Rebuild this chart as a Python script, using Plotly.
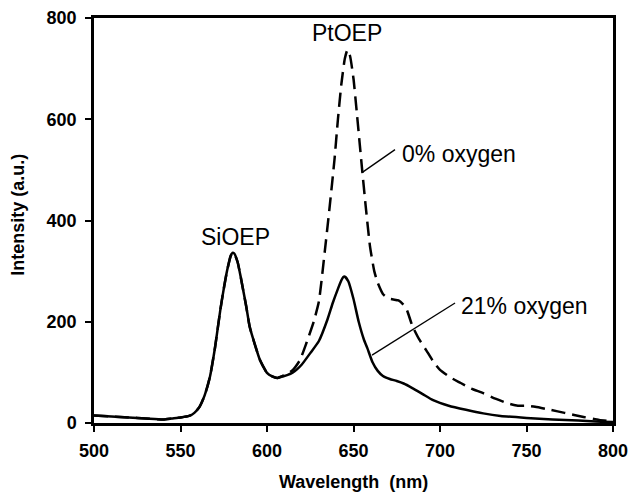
import plotly.graph_objects as go

# 21% oxygen (solid)
wl_21 = [500, 510, 520, 530, 540, 545, 550, 555, 558, 561, 564, 567, 570, 573, 575, 577, 579, 580, 581, 583,
         585, 588, 590, 593, 596, 600, 603, 606, 609, 612, 615, 617, 620, 625, 630, 635, 638, 641, 643, 644,
         645, 647, 650, 653, 656, 658, 661, 664, 667, 671, 675, 679, 684, 690, 696, 705, 715, 725, 735, 750,
         765, 780, 790, 800]
int_21 = [15, 13, 11, 9, 7, 9, 11, 14, 20, 32, 55, 91, 150, 223, 265, 302, 330, 336, 335, 318,
          285, 230, 190, 155, 124, 99, 92, 89, 92, 95, 100, 105, 115, 138, 162, 205, 237, 265, 282, 288,
          289, 280, 245, 200, 165, 148, 120, 103, 93, 87, 83, 78, 69, 57, 45, 34, 26, 19, 14, 10,
          7, 5, 3, 2]

# 0% oxygen (dashed)
wl_0 = [500, 510, 520, 530, 540, 545, 550, 555, 558, 561, 564, 567, 570, 573, 575, 577, 579, 580, 581, 583,
        585, 588, 590, 593, 596, 600, 603, 606, 609, 612, 615, 619, 623, 627, 630, 633.5, 636, 639, 641, 643,
        645, 646.5, 648, 650, 652, 655, 657, 659.5, 662, 664, 667, 670, 673, 676, 679, 681, 684, 688, 692,
        696, 700, 706, 712, 718, 725, 732, 739, 745, 750, 755, 764, 772, 783, 792, 800]
int_0 = [15, 13, 11, 9, 7, 9, 11, 14, 20, 32, 55, 91, 150, 223, 265, 302, 330, 336, 335, 318,
         285, 230, 190, 155, 124, 99, 92, 89, 93, 97, 105, 124, 160, 200, 240, 342, 420, 520, 600, 670,
         720, 737, 725, 680, 610, 500, 430, 350, 300, 277, 255, 246, 244, 242, 233, 222, 192, 165, 144,
         122, 105, 90, 79, 68, 59, 48, 39, 34, 34, 32, 26, 20, 12, 6, 3]

x_ticks = [500, 550, 600, 650, 700, 750, 800]
y_ticks = [0, 200, 400, 600, 800]

FONT = "Liberation Sans, Arial, sans-serif"

fig = go.Figure()
fig.add_trace(go.Scatter(x=wl_0, y=int_0, mode="lines", name="0% oxygen",
                         line=dict(color="black", width=2.5, dash="14px,7px", shape="spline", smoothing=0.5)))
fig.add_trace(go.Scatter(x=wl_21, y=int_21, mode="lines", name="21% oxygen",
                         line=dict(color="black", width=2.5, shape="spline", smoothing=0.5)))

# leader lines
fig.add_shape(type="line", x0=655.5, y0=496, x1=674, y1=540, line=dict(color="black", width=1.3))
fig.add_shape(type="line", x0=660.7, y0=134, x1=708.7, y1=237, line=dict(color="black", width=1.3))

ann_font = dict(family=FONT, size=23, color="black")
fig.add_annotation(x=646.5, y=771, text="PtOEP", showarrow=False, font=ann_font, xanchor="center", yanchor="middle")
fig.add_annotation(x=582, y=368, text="SiOEP", showarrow=False, font=ann_font, xanchor="center", yanchor="middle")
fig.add_annotation(x=677, y=532, text="0% oxygen", showarrow=False, font=ann_font, xanchor="left", yanchor="middle")
fig.add_annotation(x=711, y=231, text="21% oxygen", showarrow=False, font=ann_font, xanchor="left", yanchor="middle")

# axis titles
title_font = dict(family=FONT, size=18, color="black", weight="bold")
fig.add_annotation(xref="paper", yref="paper", x=0.5, y=-0.146, yanchor="middle", xanchor="center",
                   text="Wavelength  (nm)", showarrow=False, font=title_font)
fig.add_annotation(xref="paper", yref="paper", x=-0.146, y=0.515, xanchor="center", yanchor="middle",
                   text="Intensity (a.u.)", textangle=-90, showarrow=False, font=title_font)

tick_font = dict(family=FONT, size=18, color="black", weight="bold")
fig.update_layout(
    width=629, height=497,
    margin=dict(l=94, r=16, t=18, b=74),
    paper_bgcolor="white", plot_bgcolor="white",
    showlegend=False,
    xaxis=dict(range=[500, 800], tickvals=x_ticks, ticks="outside", ticklen=6, tickwidth=2, tickcolor="black",
               showline=True, linecolor="black", linewidth=2.5, mirror=True, showgrid=False, zeroline=False,
               tickfont=tick_font, automargin=False, ticklabelstandoff=4),
    yaxis=dict(range=[0, 800], tickvals=y_ticks, ticks="outside", ticklen=6, tickwidth=2, tickcolor="black",
               showline=True, linecolor="black", linewidth=2.5, mirror=True, showgrid=False, zeroline=False,
               tickfont=tick_font, automargin=False, ticklabelstandoff=5),
)

fig.write_html("out.html", config={"displayModeBar": False},
               post_script="document.body.style.margin='0';document.body.style.overflow='hidden';")
